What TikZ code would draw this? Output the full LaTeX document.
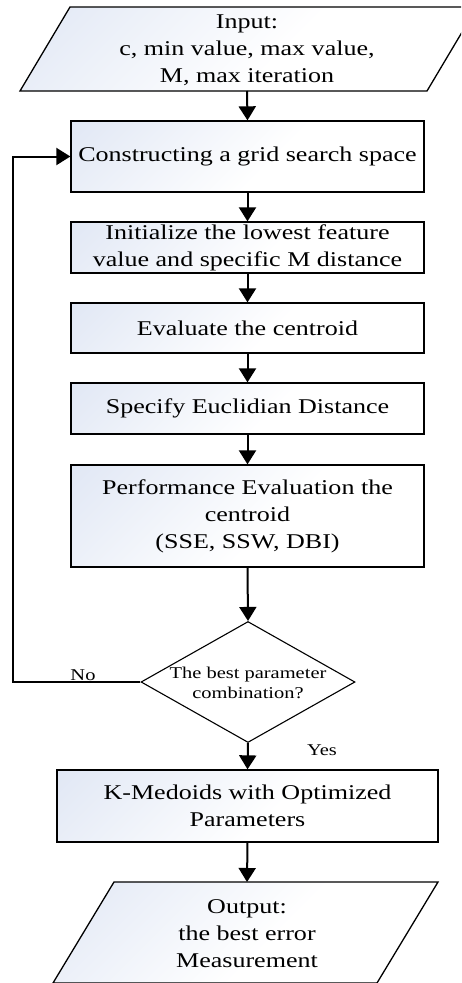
\documentclass[tikz,border=0pt]{standalone}
\usepackage{fontspec}
\setmainfont{Liberation Serif}[FakeStretch=1.24]
\usetikzlibrary{arrows.meta,shapes.geometric}
\definecolor{fillc}{RGB}{214,223,241}
\pgfdeclareverticalshading{softshade}{100bp}{color(0bp)=(white); color(45bp)=(white); color(75bp)=(fillc!55!white); color(100bp)=(fillc)}
\begin{document}
\begin{tikzpicture}[x=1pt,y=-1pt,
  shade/.style={shading=softshade, shading angle=45},
  box/.style={draw, line width=1.3pt, shade, minimum width=353pt, align=center, inner sep=0pt,
    font=\fontsize{21}{27}\selectfont},
  txt/.style={align=center, inner sep=0pt, font=\fontsize{21}{27}\selectfont},
  small/.style={align=center, inner sep=0pt, font=\fontsize{16.5}{20}\selectfont},
  arr/.style={line width=2pt, -{Triangle[width=17pt,length=14pt]}}]
\useasboundingbox (0,0) rectangle (461,983);
\clip (0,0) rectangle (461,983);
% input parallelogram
\draw[line width=1.3pt, shade] (20,91) -- (70,7) -- (477,7) -- (427,91) -- cycle;
\node[txt] (in) at (247,50) {Input:\\c, min value, max value,\\M, max iteration};
\coordinate (inbot) at (247,91);
% boxes
\node[box, minimum height=71pt] (b1) at (247.5,156.5) {Constructing a grid search space};
\node[box, minimum height=51pt] (b2) at (247.5,247.5) {Initialize the lowest feature\\value and specific M distance};
\node[box, minimum height=50pt] (b3) at (247.5,328) {Evaluate the centroid};
\node[box, minimum height=51pt] (b4) at (247.5,408.5) {Specify Euclidian Distance};
\node[box, minimum height=102pt] (b5) at (247.5,516) {Performance Evaluation the\\centroid\\(SSE, SSW, DBI)};
% decision
\node[diamond, draw, line width=1.1pt, fill=white, minimum width=214pt, minimum height=121pt, inner sep=0pt] (dec) at (248,682) {};
\node[small] (dect) at (248,683) {The best parameter\\combination?};
\node[box, minimum width=381pt, minimum height=72pt] (b6) at (247.5,806) {K-Medoids with Optimized\\Parameters};
% output parallelogram
\draw[line width=1.3pt, shade] (114,882) -- (438,882) -- (377,983) -- (53,983) -- cycle;
\coordinate (outtop) at (247,882);
\node[txt] (out) at (247,934) {Output:\\the best error\\Measurement};
% connectors
\draw[arr] (inbot) -- (b1.north);
\draw[arr] (b1.south) -- (b2.north);
\draw[arr] (b2.south) -- (b3.north);
\draw[arr] (b3.south) -- (b4.north);
\draw[arr] (b4.south) -- (b5.north);
\draw[arr] (b5.south) -- (dec.north);
\draw[arr] (dec.south) -- (b6.north);
\draw[arr] (b6.south) -- (outtop);
\coordinate (loopc) at (13,682);
\draw[arr] (dec.west) -- (loopc) |- (b1.west);
\node[small] (no) at (83,675) {No};
\node[small] (yes) at (322,750) {Yes};
\end{tikzpicture}
\end{document}
